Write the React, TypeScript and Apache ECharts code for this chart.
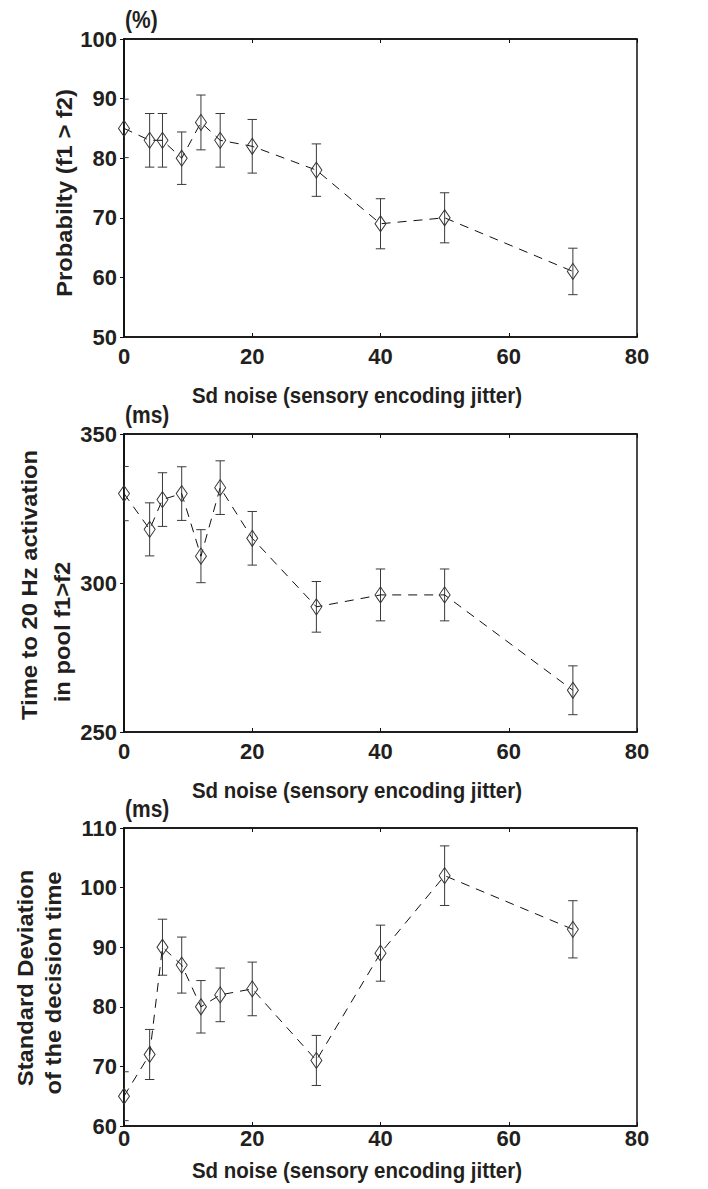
import React, { useEffect, useRef } from "react";
import * as echarts from "echarts";

const xs = [0, 4, 6, 9, 12, 15, 20, 30, 40, 50, 70];
const probValues = [85, 83, 83, 80, 86, 83, 82, 78, 69, 70, 61];
const probErr = [4.9, 4.5, 4.5, 4.4, 4.6, 4.5, 4.5, 4.4, 4.2, 4.2, 3.9];
const timeValues = [330, 318, 328, 330, 309, 332, 315, 292, 296, 296, 264];
const timeErr = [9.1, 8.9, 9, 9, 8.9, 9, 9, 8.5, 8.7, 8.7, 8.2];
const sdValues = [65, 72, 90, 87, 80, 82, 83, 71, 89, 102, 93];
const sdErr = [4.1, 4.2, 4.7, 4.7, 4.4, 4.5, 4.5, 4.2, 4.7, 5, 4.8];

const xName = "Sd noise (sensory encoding jitter)";
const panels = [
  { values: probValues, err: probErr, min: 50, max: 100, interval: 10, unit: "(%)", label: ["Probabilty (f1 > f2)"] },
  { values: timeValues, err: timeErr, min: 250, max: 350, interval: 50, unit: "(ms)", label: ["Time to 20 Hz activation", "in pool f1>f2"] },
  { values: sdValues, err: sdErr, min: 60, max: 110, interval: 10, unit: "(ms)", label: ["Standard Deviation", "of the decision time"] },
];

const FONT = "'Liberation Sans', Arial, Helvetica, sans-serif";
const TXT = "#231f20";

export default function App() {
  const ref = useRef<HTMLDivElement>(null);
  useEffect(() => {
    if (!ref.current) return;
    const chart = echarts.init(ref.current, null, { renderer: "svg" });
    const tops = [39, 434, 828];
    const plotH = 298;
    const left = 124;
    const plotW = 513;
    const xLabelMargin = [8, 8, 1];
    const xNameY = [395, 790, 1170];
    const xNameX = 357;
    const yLabelPos = [
      [[64, 193]],
      [[29, 585], [62, 632]],
      [[25, 978], [53, 983]],
    ];

    const grid: any[] = [];
    const xAxis: any[] = [];
    const yAxis: any[] = [];
    const series: any[] = [];
    const graphic: any[] = [];

    panels.forEach((p, i) => {
      grid.push({ left, top: tops[i], width: plotW, height: plotH, show: true, borderColor: "#111", borderWidth: 1.5, backgroundColor: "transparent" });
      const baseX = {
        gridIndex: i, type: "value", min: 0, max: 80, interval: 20,
        splitLine: { show: false },
        axisLine: { show: true, lineStyle: { color: "#111", width: 1.5 } },
        axisTick: { show: true, inside: true, length: 4, lineStyle: { color: "#111", width: 1 } },
      };
      xAxis.push({
        ...baseX, position: "bottom",
        axisLabel: { show: true, color: TXT, fontFamily: FONT, fontWeight: "bold", fontSize: 22, margin: xLabelMargin[i], showMinLabel: true, showMaxLabel: true },
      });
      xAxis.push({ ...baseX, position: "top", axisLabel: { show: false } });
      const baseY = {
        gridIndex: i, type: "value", min: p.min, max: p.max, interval: p.interval,
        splitLine: { show: false },
        axisLine: { show: true, lineStyle: { color: "#111", width: 1.5 } },
      };
      yAxis.push({
        ...baseY, position: "left",
        axisTick: { show: false },
        axisLabel: { show: true, color: TXT, fontFamily: FONT, fontWeight: "bold", fontSize: 22, margin: 7 },
      });
      yAxis.push({
        ...baseY, position: "right",
        axisTick: { show: true, inside: true, length: 4, lineStyle: { color: "#111", width: 1 } },
        axisLabel: { show: false },
      });

      const errData = xs.map((x, k) => [x, p.values[k] - p.err[k], p.values[k] + p.err[k]]);
      series.push({
        type: "custom",
        xAxisIndex: i * 2,
        yAxisIndex: i * 2,
        data: errData,
        encode: { x: 0, y: [1, 2] },
        clip: true,
        z: 2,
        renderItem: (params: any, api: any) => {
          const x = api.value(0);
          const lo = api.coord([x, api.value(1)]);
          const hi = api.coord([x, api.value(2)]);
          const hw = 4.7;
          const st = { stroke: "#3a3a3a", lineWidth: 1 };
          return {
            type: "group",
            children: [
              { type: "line", shape: { x1: lo[0], y1: lo[1], x2: hi[0], y2: hi[1] }, style: st },
              { type: "line", shape: { x1: lo[0] - hw, y1: lo[1], x2: lo[0] + hw, y2: lo[1] }, style: st },
              { type: "line", shape: { x1: hi[0] - hw, y1: hi[1], x2: hi[0] + hw, y2: hi[1] }, style: st },
            ],
          };
        },
      });
      series.push({
        type: "line",
        xAxisIndex: i * 2,
        yAxisIndex: i * 2,
        data: xs.map((x, k) => [x, p.values[k]]),
        symbol: "diamond",
        symbolSize: [11, 16],
        itemStyle: { color: "rgba(0,0,0,0)", borderColor: "#333", borderWidth: 1 },
        lineStyle: { color: "#111", width: 1, type: [9, 7] },
        z: 3,
      });

      graphic.push({
        type: "text", x: left + 1, y: tops[i] - 19, scaleY: 1.1,
        style: { text: p.unit, fill: TXT, font: `bold 21px ${FONT}`, align: "left", verticalAlign: "middle" },
      });
      graphic.push({
        type: "text", x: xNameX, y: xNameY[i], scaleY: 1.12,
        style: { text: xName, fill: TXT, font: `bold 20.5px ${FONT}`, align: "center", verticalAlign: "middle" },
      });
      p.label.forEach((t, li) => {
        const pos = yLabelPos[i][li];
        graphic.push({
          type: "text", x: pos[0], y: pos[1], rotation: Math.PI / 2, scaleX: 1.08,
          style: { text: t, fill: TXT, font: `bold 22px ${FONT}`, align: "center", verticalAlign: "middle" },
        });
      });
    });

    chart.setOption({
      animation: false,
      backgroundColor: "#fff",
      grid, xAxis, yAxis, series, graphic,
    });
    return () => chart.dispose();
  }, []);
  return <div ref={ref} style={{ position: "absolute", left: 0, top: 0, width: 708, height: 1189 }} />;
}
